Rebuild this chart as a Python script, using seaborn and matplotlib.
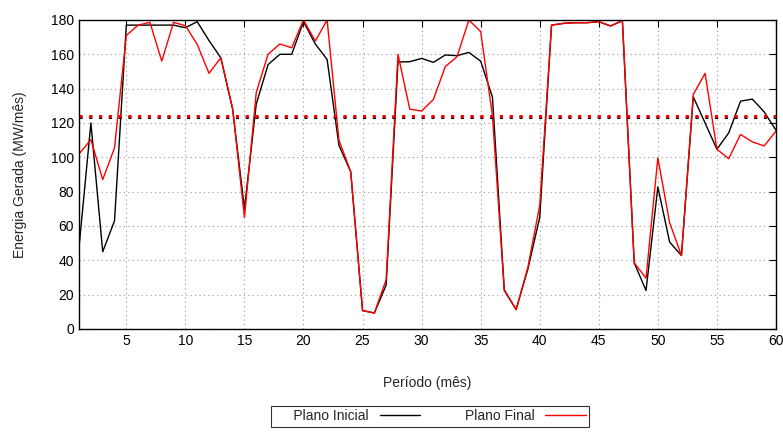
import numpy as np
import pandas as pd
import matplotlib
matplotlib.use("Agg")
import matplotlib.pyplot as plt
import seaborn as sns
from matplotlib.lines import Line2D

periodo = list(range(1, 61))
plano_inicial = [48, 120, 45, 63, 177, 177, 177, 177, 177, 175.5,
                 179, 168, 158, 128, 70, 131, 154, 160, 160, 179,
                 166, 157, 107, 91.5, 10.7, 9.3, 25.7, 155.5, 155.7, 157.6,
                 155.3, 159.6, 159.2, 161.1, 156, 135, 22.8, 11.3, 35, 65,
                 177, 178, 178.4, 178.4, 179, 176.5, 179.6, 38.5, 22.4, 82.7,
                 50.6, 42.8, 135.2, 120, 104.7, 114.2, 132.7, 133.9, 126.5, 115.8]
plano_final = [102, 110.3, 87, 105.5, 171, 177, 178.6, 156, 178.6, 176.7,
               165.8, 148.9, 158, 128.4, 65, 137.8, 160, 166, 163.8, 180,
               167.7, 180, 110, 91.5, 10.7, 9.3, 28.8, 160, 128, 127,
               133.7, 152.8, 158.6, 180, 173.2, 124, 22.4, 11.3, 36, 72,
               177, 178, 178.4, 178.4, 179, 176.5, 179.6, 38.5, 29.6, 99.6,
               61.9, 42.8, 136.6, 148.9, 104.7, 99.2, 113.3, 109, 106.6, 115.2]
media_inicial = 123.3
media_final = 123.9

df = pd.DataFrame({"Período": periodo * 2,
                   "Energia": plano_inicial + plano_final,
                   "Plano": ["Plano Inicial"] * 60 + ["Plano Final"] * 60})

sns.set_style("white")
plt.rcParams['font.family'] = ['Liberation Sans', 'DejaVu Sans']

fig = plt.figure(figsize=(7.83, 4.34), dpi=100)
ax = fig.add_axes([0.101, 0.242, 0.890, 0.712])

sns.lineplot(data=df, x="Período", y="Energia", hue="Plano",
             palette={"Plano Inicial": "black", "Plano Final": "red"},
             linewidth=1.0, ax=ax, legend=False)

ax.axhline(media_inicial, color="black", linestyle=(0, (1, 2.2)), linewidth=2.2)
ax.axhline(media_final, color="red", linestyle=(0, (1, 2.2)), linewidth=2.2)

ax.set_xlim(1, 60)
ax.set_ylim(0, 180)
ax.set_xticks(list(range(5, 61, 5)))
ax.set_yticks(list(range(0, 181, 20)))
ax.grid(True, color="#999999", linestyle=(0, (1, 3)), linewidth=0.8)
ax.tick_params(direction="in", top=True, right=True, length=5, width=0.8,
               labelsize=10, colors="black")
for s in ax.spines.values():
    s.set_color("black")
    s.set_linewidth(1.0)

ax.set_xlabel("Período (mês)", fontsize=10, labelpad=20)
ax.set_ylabel("Energia Gerada (MW/mês)", fontsize=10, labelpad=17)

handles = [Line2D([], [], color="black", lw=1.0), Line2D([], [], color="red", lw=1.0)]
leg = fig.legend(handles, ["     Plano Inicial", "Plano Final"], loc="center",
                 bbox_to_anchor=(0.549, 0.041), ncol=2, markerfirst=False,
                 frameon=True, fancybox=False, fontsize=10, handlelength=2.9,
                 columnspacing=3.2, borderpad=0.25, handletextpad=0.8,
                 borderaxespad=0)
leg.get_frame().set_edgecolor("black")
leg.get_frame().set_linewidth(0.8)

fig.savefig("out.png", dpi=100)
